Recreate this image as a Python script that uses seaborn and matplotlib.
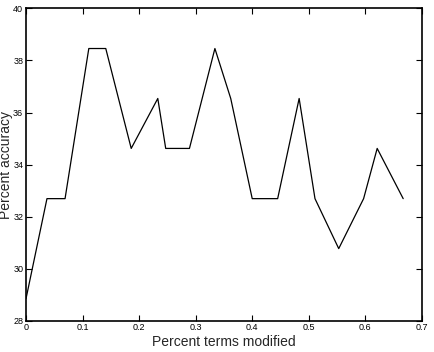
import pandas as pd
import matplotlib
matplotlib.use("Agg")
import matplotlib.pyplot as plt
import seaborn as sns

# values
terms_modified = [0.0, 0.037, 0.069, 0.111, 0.141, 0.186, 0.233, 0.247, 0.289, 0.334,
                  0.362, 0.400, 0.445, 0.483, 0.511, 0.553, 0.597, 0.621, 0.667]
accuracy = [28.85, 32.69, 32.69, 38.46, 38.46, 34.62, 36.54, 34.62, 34.62, 38.46,
            36.54, 32.69, 32.69, 36.54, 32.69, 30.77, 32.69, 34.62, 32.69]
x_ticks = [0, 0.1, 0.2, 0.3, 0.4, 0.5, 0.6, 0.7]
x_tick_labels = ["0", "0.1", "0.2", "0.3", "0.4", "0.5", "0.6", "0.7"]
y_ticks = [28, 30, 32, 34, 36, 38, 40]

df = pd.DataFrame({"terms": terms_modified, "acc": accuracy})

sns.set_style("ticks")
plt.rcParams["font.family"] = ["Liberation Sans", "DejaVu Sans"]

fig = plt.figure(figsize=(4.34, 3.52), dpi=100)
ax = fig.add_axes([0.06, 0.089, 0.912, 0.887])
sns.lineplot(data=df, x="terms", y="acc", color="black", linewidth=0.9, ax=ax)

ax.set_xlim(0, 0.7)
ax.set_ylim(28, 40)
ax.set_xticks(x_ticks)
ax.set_xticklabels(x_tick_labels)
ax.set_yticks(y_ticks)
ax.tick_params(direction="in", length=4, width=0.8, labelsize=6.5, pad=2,
               top=True, right=True, colors="black")
for s in ax.spines.values():
    s.set_linewidth(1.2)
    s.set_color("black")
ax.set_xlabel("Percent terms modified", fontsize=10)
ax.set_ylabel("Percent accuracy", fontsize=10)
# label placement in axes fraction, matched to the reference
ax.xaxis.set_label_coords(0.5, -0.046)
ax.yaxis.set_label_coords(-0.032, 0.5)

fig.savefig("out.png", dpi=100)
